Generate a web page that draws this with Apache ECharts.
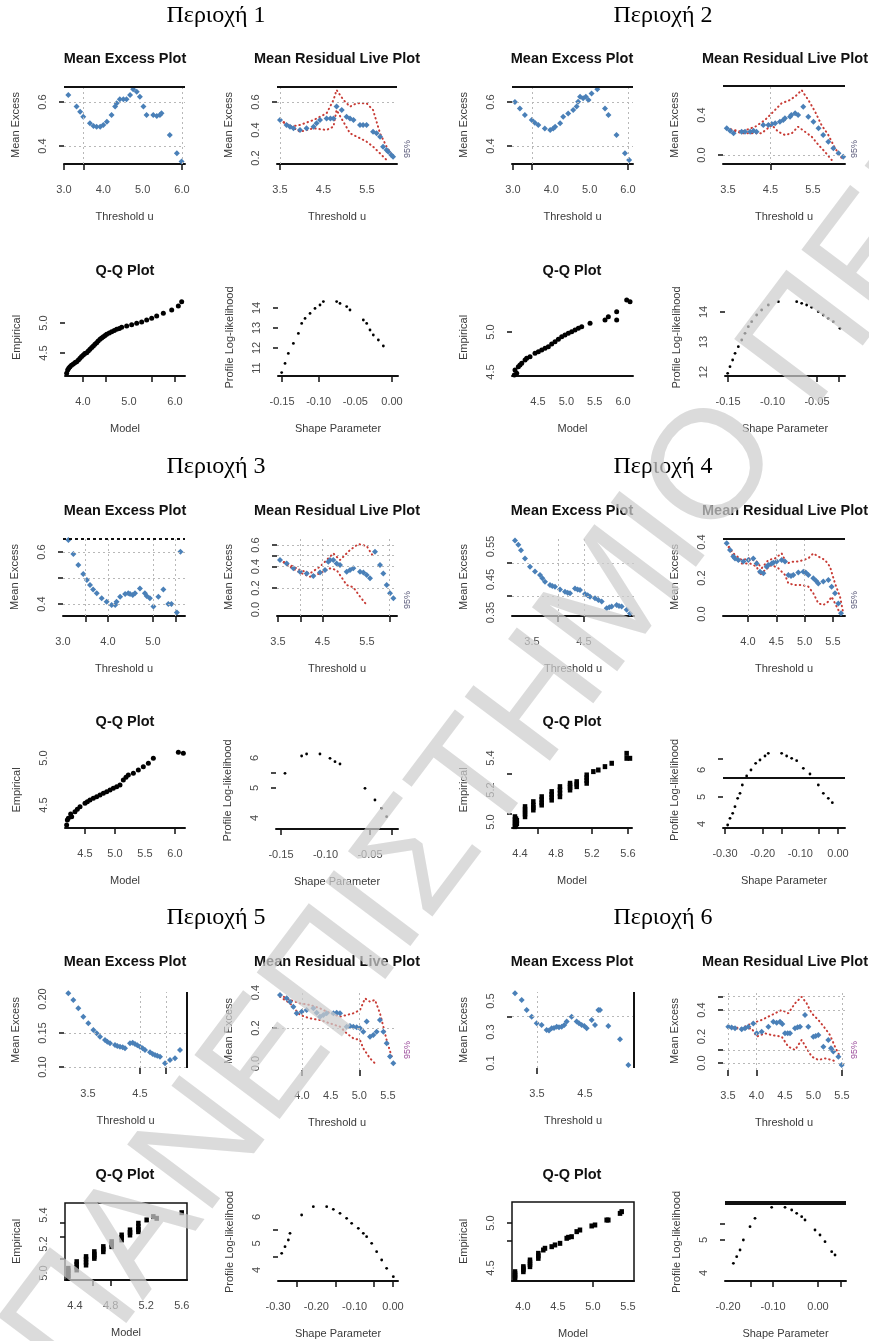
<!DOCTYPE html>
<html><head><meta charset="utf-8">
<script src="https://cdn.jsdelivr.net/npm/echarts@6/dist/echarts.min.js"></script>
<style>html,body{margin:0;padding:0;background:#fff}#c{width:869px;height:1341px}</style>
</head><body><div id="c"></div>
<script>
// ---------- text ----------
const regionTitles = ['Περιοχή 1','Περιοχή 2','Περιοχή 3','Περιοχή 4','Περιοχή 5','Περιοχή 6'];
const titleME = 'Mean Excess Plot', titleMRL = 'Mean Residual Live Plot', titleQQ = 'Q-Q Plot';
const nameThr = 'Threshold u', nameME = 'Mean Excess', nameModel = 'Model', nameEmp = 'Empirical',
      nameShape = 'Shape Parameter', nameProf = 'Profile Log-likelihood', ciText = '95%';
const watermarkText = 'ΠΑΝΕΠΙΣΤΗΜΙΟ ΠΕΙΡΑΙΩΣ';

// ---------- data : region 1 ----------
const r1_me = [[3.11,0.632],[3.32,0.579],[3.41,0.556],[3.49,0.533],[3.66,0.503],[3.75,0.491],[3.83,0.488],[3.92,0.488],[4.00,0.495],[4.09,0.510],[4.21,0.541],[4.30,0.579],[4.34,0.594],[4.42,0.612],[4.51,0.612],[4.59,0.612],[4.68,0.632],[4.76,0.658],[4.85,0.647],[4.93,0.624],[5.02,0.579],[5.10,0.541],[5.27,0.541],[5.36,0.536],[5.44,0.541],[5.48,0.549],[5.69,0.450],[5.87,0.367],[5.99,0.329]];
const r1_mrl = [[3.50,0.471],[3.65,0.436],[3.73,0.424],[3.81,0.412],[3.96,0.400],[4.11,0.412],[4.27,0.424],[4.34,0.448],[4.42,0.471],[4.57,0.483],[4.66,0.483],[4.73,0.483],[4.80,0.567],[4.92,0.543],[5.03,0.495],[5.11,0.483],[5.19,0.471],[5.34,0.436],[5.41,0.436],[5.49,0.436],[5.64,0.388],[5.72,0.376],[5.80,0.352],[5.87,0.281],[5.95,0.257],[5.99,0.245],[6.06,0.221],[6.10,0.209]];
const r1_mrl_hi = [[3.50,0.471],[3.73,0.424],[3.96,0.436],[4.27,0.471],[4.57,0.519],[4.73,0.614],[4.80,0.686],[4.96,0.614],[5.11,0.567],[5.26,0.591],[5.49,0.591],[5.64,0.543],[5.80,0.376],[5.95,0.281],[6.10,0.209]];
const r1_mrl_lo = [[3.50,0.471],[3.96,0.388],[4.27,0.412],[4.57,0.400],[4.73,0.424],[4.80,0.543],[5.11,0.376],[5.34,0.341],[5.49,0.317],[5.64,0.281],[5.80,0.233],[5.95,0.186]];
const r1_qq = [[3.645,4.161],[3.667,4.217],[3.69,4.245],[3.717,4.272],[3.75,4.295],[3.79,4.317],[3.83,4.34],[3.862,4.356],[3.90,4.385],[3.935,4.411],[3.97,4.44],[4.007,4.467],[4.04,4.49],[4.08,4.506],[4.115,4.535],[4.152,4.561],[4.19,4.59],[4.225,4.617],[4.26,4.645],[4.297,4.672],[4.33,4.70],[4.37,4.728],[4.405,4.75],[4.442,4.772],[4.48,4.79],[4.515,4.811],[4.57,4.835],[4.623,4.856],[4.68,4.875],[4.732,4.894],[4.79,4.91],[4.841,4.928],[4.949,4.95],[5.058,4.972],[5.167,4.994],[5.275,5.017],[5.384,5.05],[5.493,5.078],[5.601,5.117],[5.746,5.161],[5.928,5.217],[6.072,5.283],[6.145,5.356]];
const r1_pr = [[-0.1505,10.77],[-0.1459,11.23],[-0.1414,11.73],[-0.1345,12.23],[-0.1277,12.73],[-0.1232,13.23],[-0.1186,13.48],[-0.1118,13.73],[-0.105,13.98],[-0.0982,14.15],[-0.0936,14.32],[-0.0755,14.32],[-0.0709,14.23],[-0.0618,14.07],[-0.0573,13.9],[-0.0391,13.4],[-0.0345,13.23],[-0.03,12.9],[-0.0255,12.65],[-0.0186,12.4],[-0.0118,12.1]];
// region 2
const r2_me = [[3.05,0.600],[3.18,0.571],[3.31,0.541],[3.49,0.518],[3.57,0.506],[3.66,0.495],[3.83,0.480],[3.97,0.473],[4.05,0.480],[4.10,0.488],[4.23,0.503],[4.31,0.533],[4.44,0.548],[4.57,0.564],[4.66,0.579],[4.70,0.601],[4.75,0.624],[4.83,0.617],[4.90,0.624],[4.97,0.609],[5.05,0.639],[5.20,0.658],[5.40,0.571],[5.49,0.541],[5.70,0.450],[5.92,0.367],[6.03,0.336]];
const r2_mrl = [[3.47,0.267],[3.55,0.243],[3.63,0.217],[3.82,0.233],[3.90,0.233],[4.02,0.233],[4.10,0.243],[4.17,0.233],[4.33,0.300],[4.45,0.300],[4.53,0.310],[4.61,0.317],[4.72,0.333],[4.80,0.350],[4.84,0.367],[4.96,0.383],[4.99,0.400],[5.08,0.417],[5.15,0.400],[5.27,0.483],[5.39,0.383],[5.51,0.333],[5.63,0.267],[5.74,0.200],[5.86,0.133],[5.98,0.067],[6.10,0.017],[6.21,-0.017]];
const r2_mrl_hi = [[3.47,0.267],[3.82,0.233],[4.14,0.283],[4.37,0.350],[4.53,0.417],[4.76,0.517],[4.96,0.550],[5.12,0.600],[5.23,0.650],[5.39,0.550],[5.55,0.433],[5.70,0.300],[5.86,0.200],[6.02,0.067],[6.18,-0.033]];
const r2_mrl_lo = [[3.47,0.267],[3.82,0.217],[4.29,0.217],[4.53,0.300],[4.68,0.233],[4.84,0.200],[5.00,0.217],[5.15,0.283],[5.31,0.233],[5.47,0.183],[5.63,0.100],[5.78,0.033],[5.94,-0.050]];
const r2_qq = [[4.082,4.463],[4.094,4.525],[4.124,4.483],[4.153,4.567],[4.182,4.588],[4.212,4.608],[4.271,4.65],[4.30,4.671],[4.359,4.692],[4.447,4.733],[4.506,4.754],[4.565,4.775],[4.624,4.796],[4.682,4.817],[4.741,4.85],[4.80,4.879],[4.859,4.908],[4.918,4.942],[4.976,4.963],[5.035,4.983],[5.094,5.004],[5.153,5.025],[5.212,5.046],[5.271,5.067],[5.418,5.108],[5.682,5.15],[5.741,5.192],[5.888,5.254],[5.888,5.15],[6.065,5.40],[6.124,5.379]];
const r2_pr = [[-0.1504,11.956],[-0.1478,12.178],[-0.1448,12.4],[-0.1421,12.622],[-0.1384,12.844],[-0.1346,13.067],[-0.1309,13.289],[-0.1272,13.511],[-0.1234,13.678],[-0.1178,13.9],[-0.1122,14.067],[-0.1047,14.233],[-0.0934,14.344],[-0.0728,14.344],[-0.0672,14.289],[-0.0616,14.233],[-0.056,14.156],[-0.0485,14.011],[-0.0429,13.9],[-0.0373,13.789],[-0.0316,13.678],[-0.0242,13.456]];
// region 3
const r3_me = [[3.12,0.646],[3.23,0.592],[3.34,0.550],[3.45,0.515],[3.53,0.492],[3.60,0.473],[3.67,0.456],[3.75,0.441],[3.86,0.422],[3.97,0.409],[4.08,0.396],[4.16,0.396],[4.19,0.409],[4.27,0.428],[4.38,0.438],[4.45,0.441],[4.49,0.438],[4.55,0.435],[4.60,0.441],[4.71,0.460],[4.82,0.441],[4.86,0.431],[4.93,0.422],[5.01,0.390],[5.12,0.428],[5.23,0.456],[5.34,0.400],[5.41,0.400],[5.53,0.367],[5.61,0.601]];
const r3_mrl = [[3.545,0.460],[3.695,0.429],[3.845,0.383],[3.994,0.352],[4.144,0.336],[4.294,0.312],[4.444,0.343],[4.556,0.367],[4.631,0.445],[4.669,0.460],[4.743,0.460],[4.818,0.429],[4.893,0.414],[5.043,0.352],[5.118,0.367],[5.193,0.383],[5.343,0.352],[5.418,0.343],[5.493,0.321],[5.567,0.290],[5.680,0.538],[5.792,0.414],[5.867,0.336],[5.942,0.228],[6.017,0.150],[6.092,0.104]];
const r3_mrl_hi = [[3.545,0.460],[3.77,0.414],[3.994,0.367],[4.219,0.336],[4.444,0.398],[4.631,0.476],[4.743,0.522],[4.893,0.460],[5.118,0.553],[5.305,0.609],[5.493,0.591],[5.642,0.491]];
const r3_mrl_lo = [[3.545,0.460],[3.77,0.398],[3.994,0.343],[4.219,0.305],[4.444,0.336],[4.669,0.383],[4.818,0.367],[5.043,0.228],[5.193,0.206],[5.343,0.119],[5.493,0.042]];
const r3_qq = [[4.194,4.287],[4.206,4.34],[4.222,4.358],[4.261,4.404],[4.278,4.376],[4.333,4.429],[4.372,4.454],[4.417,4.482],[4.50,4.518],[4.539,4.535],[4.583,4.553],[4.639,4.571],[4.694,4.589],[4.75,4.606],[4.806,4.624],[4.861,4.642],[4.917,4.66],[4.972,4.677],[5.028,4.695],[5.083,4.713],[5.139,4.766],[5.183,4.794],[5.222,4.819],[5.306,4.837],[5.389,4.872],[5.472,4.908],[5.556,4.943],[5.639,4.996],[6.056,5.06],[6.139,5.05]];
const r3_pr = [[-0.1455,5.489],[-0.1268,6.067],[-0.1212,6.133],[-0.1062,6.133],[-0.0949,5.989],[-0.0893,5.878],[-0.0837,5.80],[-0.0556,4.989],[-0.0444,4.60],[-0.0369,4.322],[-0.0313,4.044]];
// region 4
const r4_me = [[3.173,0.568],[3.237,0.555],[3.288,0.539],[3.365,0.514],[3.462,0.489],[3.558,0.474],[3.654,0.464],[3.699,0.454],[3.75,0.443],[3.846,0.433],[3.891,0.43],[3.942,0.428],[4.038,0.42],[4.135,0.413],[4.186,0.41],[4.231,0.408],[4.327,0.423],[4.378,0.42],[4.423,0.418],[4.519,0.406],[4.571,0.402],[4.615,0.398],[4.712,0.393],[4.776,0.388],[4.84,0.383],[4.936,0.363],[4.987,0.366],[5.032,0.368],[5.128,0.373],[5.173,0.37],[5.224,0.368],[5.321,0.358],[5.385,0.347]];
const r4_mrl = [[3.624,0.393],[3.682,0.356],[3.741,0.319],[3.771,0.309],[3.829,0.300],[3.918,0.291],[4.006,0.300],[4.094,0.309],[4.153,0.281],[4.212,0.235],[4.271,0.226],[4.329,0.263],[4.359,0.272],[4.418,0.281],[4.447,0.285],[4.506,0.291],[4.594,0.300],[4.653,0.291],[4.712,0.217],[4.759,0.211],[4.800,0.217],[4.888,0.230],[4.976,0.235],[5.018,0.230],[5.065,0.217],[5.153,0.198],[5.200,0.185],[5.241,0.170],[5.329,0.180],[5.418,0.189],[5.476,0.152],[5.535,0.115],[5.594,0.059],[5.641,0.004]];
const r4_mrl_hi = [[3.624,0.393],[3.741,0.337],[3.888,0.300],[4.035,0.309],[4.153,0.291],[4.241,0.254],[4.359,0.300],[4.476,0.309],[4.594,0.337],[4.682,0.281],[4.800,0.291],[4.888,0.291],[4.976,0.300],[5.065,0.309],[5.153,0.337],[5.241,0.319],[5.359,0.300],[5.447,0.263],[5.535,0.170],[5.624,0.096],[5.682,0.004]];
const r4_mrl_lo = [[3.624,0.393],[3.741,0.319],[3.888,0.281],[4.035,0.281],[4.153,0.263],[4.212,0.217],[4.300,0.244],[4.418,0.272],[4.535,0.254],[4.653,0.217],[4.712,0.170],[4.829,0.161],[4.947,0.161],[5.065,0.152],[5.153,0.115],[5.241,0.059],[5.329,0.050],[5.418,0.069],[5.476,0.096],[5.565,0.041],[5.624,0.004]];
const r4_qq = [[4.344,4.971],[4.344,4.985],[4.344,5.0],[4.344,5.015],[4.344,5.033],[4.355,4.98],[4.355,5.0],[4.355,5.02],[4.365,4.99],[4.365,5.01],[4.456,5.033],[4.456,5.05],[4.456,5.065],[4.456,5.08],[4.456,5.096],[4.548,5.075],[4.548,5.09],[4.548,5.105],[4.548,5.127],[4.641,5.106],[4.641,5.12],[4.641,5.14],[4.641,5.158],[4.752,5.137],[4.752,5.155],[4.752,5.172],[4.752,5.19],[4.844,5.158],[4.844,5.18],[4.844,5.2],[4.844,5.221],[4.956,5.2],[4.956,5.215],[4.956,5.23],[4.956,5.242],[5.03,5.221],[5.03,5.237],[5.03,5.252],[5.141,5.242],[5.141,5.26],[5.141,5.277],[5.141,5.294],[5.215,5.315],[5.27,5.325],[5.344,5.346],[5.419,5.367],[5.585,5.429],[5.585,5.398],[5.622,5.398]];
const r4_pr = [[-0.2929,3.963],[-0.2867,4.21],[-0.2796,4.395],[-0.2735,4.642],[-0.2664,4.951],[-0.2602,5.136],[-0.254,5.444],[-0.2425,5.778],[-0.231,6.0],[-0.2186,6.247],[-0.2071,6.37],[-0.1938,6.519],[-0.185,6.617],[-0.1496,6.617],[-0.1363,6.519],[-0.123,6.432],[-0.1097,6.346],[-0.092,6.062],[-0.0744,5.852],[-0.0522,5.444],[-0.0389,5.136],[-0.0257,4.951],[-0.015,4.79]];
const r4_pr_line = [5.704];
// region 5
const r5_me = [[3.122,0.2083],[3.218,0.1985],[3.314,0.1863],[3.41,0.174],[3.506,0.1642],[3.603,0.1544],[3.667,0.1495],[3.731,0.1446],[3.827,0.1397],[3.872,0.1372],[3.923,0.1348],[4.019,0.1324],[4.064,0.1309],[4.115,0.1299],[4.167,0.1289],[4.212,0.1275],[4.308,0.1348],[4.359,0.1358],[4.404,0.1338],[4.449,0.1319],[4.50,0.1299],[4.551,0.1275],[4.596,0.125],[4.692,0.1216],[4.744,0.1191],[4.788,0.1176],[4.833,0.1167],[4.885,0.1152],[4.981,0.1054],[5.077,0.1103],[5.173,0.1127],[5.269,0.125]];
const r5_mrl = [[3.616,0.386],[3.733,0.367],[3.791,0.348],[3.849,0.320],[3.907,0.283],[3.994,0.292],[4.081,0.301],[4.198,0.311],[4.256,0.286],[4.314,0.264],[4.372,0.273],[4.430,0.283],[4.547,0.283],[4.605,0.286],[4.663,0.283],[4.779,0.2075],[4.837,0.211],[4.895,0.2075],[4.954,0.204],[5.012,0.198],[5.070,0.179],[5.128,0.236],[5.186,0.151],[5.244,0.161],[5.302,0.179],[5.360,0.245],[5.419,0.179],[5.477,0.114],[5.535,0.039],[5.593,0.001]];
const r5_mrl_hi = [[3.616,0.386],[3.791,0.358],[3.965,0.339],[4.14,0.330],[4.314,0.311],[4.43,0.292],[4.663,0.264],[4.779,0.273],[4.895,0.283],[5.012,0.301],[5.099,0.367],[5.186,0.348],[5.273,0.358],[5.36,0.283],[5.419,0.2075],[5.477,0.132],[5.564,0.039]];
const r5_mrl_lo = [[3.616,0.376],[3.791,0.339],[3.965,0.273],[4.14,0.254],[4.314,0.245],[4.488,0.226],[4.663,0.2075],[4.779,0.170],[4.895,0.142],[5.012,0.132],[5.07,0.085],[5.128,0.057],[5.186,0.029],[5.273,0.001]];
const r5_qq = [[4.325,4.963],[4.325,4.98],[4.325,4.997],[4.325,5.015],[4.325,5.032],[4.419,5.021],[4.419,5.04],[4.419,5.06],[4.419,5.078],[4.524,5.055],[4.524,5.075],[4.524,5.095],[4.524,5.113],[4.617,5.101],[4.617,5.115],[4.617,5.13],[4.617,5.147],[4.718,5.147],[4.718,5.165],[4.718,5.182],[4.812,5.182],[4.812,5.2],[4.812,5.216],[4.924,5.228],[4.924,5.245],[4.924,5.262],[5.018,5.262],[5.018,5.28],[5.018,5.297],[5.112,5.285],[5.112,5.3],[5.112,5.32],[5.112,5.343],[5.205,5.366],[5.28,5.389],[5.318,5.377],[5.599,5.416]];
const r5_pr = [[-0.2904,4.629],[-0.2817,4.881],[-0.273,5.132],[-0.2687,5.384],[-0.2383,6.075],[-0.2078,6.39],[-0.173,6.39],[-0.1556,6.289],[-0.1382,6.138],[-0.1209,5.95],[-0.1078,5.761],[-0.0904,5.572],[-0.0774,5.384],[-0.0687,5.258],[-0.0556,5.006],[-0.0426,4.692],[-0.0295,4.377],[-0.0165,4.063],[0.0009,3.748]];
// region 6
const r6_me = [[3.042,0.5495],[3.181,0.5065],[3.285,0.442],[3.389,0.399],[3.493,0.356],[3.597,0.345],[3.701,0.313],[3.75,0.309],[3.806,0.324],[3.854,0.326],[3.91,0.334],[3.958,0.330],[4.014,0.334],[4.069,0.345],[4.118,0.367],[4.222,0.399],[4.326,0.367],[4.375,0.356],[4.431,0.345],[4.486,0.339],[4.535,0.324],[4.639,0.377],[4.708,0.345],[4.778,0.442],[4.813,0.442],[4.986,0.339],[5.229,0.253],[5.403,0.087]];
const r6_mrl = [[3.506,0.274],[3.564,0.267],[3.623,0.262],[3.74,0.254],[3.798,0.262],[3.857,0.274],[3.944,0.299],[4.003,0.224],[4.091,0.236],[4.208,0.274],[4.295,0.312],[4.354,0.304],[4.412,0.312],[4.453,0.294],[4.50,0.224],[4.547,0.224],[4.588,0.224],[4.675,0.262],[4.722,0.269],[4.763,0.274],[4.851,0.362],[4.909,0.274],[4.997,0.199],[5.038,0.204],[5.085,0.211],[5.173,0.123],[5.26,0.174],[5.307,0.111],[5.348,0.086],[5.436,0.048],[5.494,-0.015]];
const r6_mrl_hi = [[3.506,0.274],[3.74,0.262],[3.915,0.299],[4.091,0.325],[4.266,0.362],[4.442,0.40],[4.558,0.375],[4.675,0.45],[4.792,0.50],[4.88,0.45],[4.968,0.375],[5.085,0.325],[5.202,0.262],[5.289,0.211],[5.377,0.123],[5.465,0.048]];
const r6_mrl_lo = [[3.506,0.274],[3.74,0.254],[3.915,0.262],[4.003,0.199],[4.149,0.224],[4.266,0.211],[4.442,0.199],[4.558,0.123],[4.675,0.098],[4.792,0.174],[4.88,0.111],[4.968,0.048],[5.085,0.023],[5.202,0.035],[5.319,0.023],[5.406,0.010]];
const r6_qq = [[3.886,4.385],[3.886,4.40],[3.886,4.42],[3.886,4.44],[3.886,4.459],[4.005,4.459],[4.005,4.48],[4.005,4.50],[4.005,4.515],[4.10,4.515],[4.10,4.54],[4.10,4.565],[4.10,4.589],[4.219,4.607],[4.219,4.635],[4.219,4.663],[4.29,4.70],[4.314,4.719],[4.41,4.737],[4.457,4.756],[4.529,4.774],[4.624,4.83],[4.648,4.841],[4.695,4.848],[4.767,4.904],[4.814,4.922],[4.981,4.967],[5.029,4.978],[5.195,5.033],[5.219,5.033],[5.386,5.107],[5.41,5.126]];
const r6_pr = [[-0.1881,4.293],[-0.1807,4.495],[-0.1733,4.697],[-0.1659,5.0],[-0.1511,5.404],[-0.14,5.657],[-0.103,5.99],[-0.0733,5.99],[-0.0585,5.909],[-0.0474,5.808],[-0.0363,5.707],[-0.0289,5.606],[-0.0067,5.303],[0.0044,5.152],[0.0156,4.949],[0.0304,4.646],[0.0378,4.545]];

// ---------- tick labels (values shown on axes) ----------
const r1_me_xl=[3.0,4.0,5.0,6.0], r1_me_yl=[0.4,0.6];
const r1_mrl_xl=[3.5,4.5,5.5], r1_mrl_yl=[0.2,0.4,0.6];
const r1_qq_xl=[4.0,5.0,6.0], r1_qq_yl=[4.5,5.0];
const r1_pr_xl=[-0.15,-0.10,-0.05,0.00], r1_pr_yl=[11,12,13,14];
const r2_me_xl=[3.0,4.0,5.0,6.0], r2_me_yl=[0.4,0.6];
const r2_mrl_xl=[3.5,4.5,5.5], r2_mrl_yl=[0.0,0.4];
const r2_qq_xl=[4.5,5.0,5.5,6.0], r2_qq_yl=[4.5,5.0];
const r2_pr_xl=[-0.15,-0.10,-0.05], r2_pr_yl=[12,13,14];
const r3_me_xl=[3.0,4.0,5.0], r3_me_yl=[0.4,0.6];
const r3_mrl_xl=[3.5,4.5,5.5], r3_mrl_yl=[0.0,0.2,0.4,0.6];
const r3_qq_xl=[4.5,5.0,5.5,6.0], r3_qq_yl=[4.5,5.0];
const r3_pr_xl=[-0.15,-0.10,-0.05], r3_pr_yl=[4,5,6];
const r4_me_xl=[3.5,4.5], r4_me_yl=[0.35,0.45,0.55];
const r4_mrl_xl=[4.0,4.5,5.0,5.5], r4_mrl_yl=[0.0,0.2,0.4];
const r4_qq_xl=[4.4,4.8,5.2,5.6], r4_qq_yl=[5.0,5.2,5.4];
const r4_pr_xl=[-0.30,-0.20,-0.10,0.00], r4_pr_yl=[4,5,6];
const r5_me_xl=[3.5,4.5], r5_me_yl=[0.10,0.15,0.20];
const r5_mrl_xl=[4.0,4.5,5.0,5.5], r5_mrl_yl=[0.0,0.2,0.4];
const r5_qq_xl=[4.4,4.8,5.2,5.6], r5_qq_yl=[5.0,5.2,5.4];
const r5_pr_xl=[-0.30,-0.20,-0.10,0.00], r5_pr_yl=[4,5,6];
const r6_me_xl=[3.5,4.5], r6_me_yl=[0.1,0.3,0.5];
const r6_mrl_xl=[3.5,4.0,4.5,5.0,5.5], r6_mrl_yl=[0.0,0.2,0.4];
const r6_qq_xl=[4.0,4.5,5.0,5.5], r6_qq_yl=[4.5,5.0];
const r6_pr_xl=[-0.20,-0.10,0.00], r6_pr_yl=[4,5];

// ---------- panel layout & axis settings ----------
const panels = [
 {rect:[64,86,121,78], kind:'me', x:[3.0,6.077], y:[0.3182,0.6727], xT:[3.0,3.5,6.0], xL:r1_me_xl, xd:1, yT:[0.4,0.6], yL:r1_me_yl, yd:1, gx:[3.5,6.0], gy:[0.4,0.6], top:'solid', pts:r1_me},
 {rect:[277,86,120,78], kind:'mrl', x:[3.431,6.190], y:[0.1571,0.7143], xT:[3.5], xL:r1_mrl_xl, xd:1, yT:[0.6], yL:r1_mrl_yl, yd:1, gx:[3.5], gy:[0.6], top:'solid', pts:r1_mrl, hi:r1_mrl_hi, lo:r1_mrl_lo},
 {rect:[65,299,120,77], kind:'qq', x:[3.609,6.217], y:[4.1167,5.4], xT:[4.0,4.5,5.5,6.0], xL:r1_qq_xl, xd:1, yT:[4.5,5.0], yL:r1_qq_yl, yd:1, pts:r1_qq},
 {rect:[278,299,120,77], kind:'pr', x:[-0.1555,0.0082], y:[10.6,14.45], xT:[-0.15,-0.10,0], xL:r1_pr_xl, xd:2, yT:[12,13,14], yL:r1_pr_yl, yd:0, pts:r1_pr},

 {rect:[512,86,121,78], kind:'me', x:[2.974,6.131], y:[0.3182,0.6727], xT:[3.0,3.5,6.0], xL:r2_me_xl, xd:1, yT:[0.4,0.6], yL:r2_me_yl, yd:1, gx:[3.5,6.0], gy:[0.4,0.6], top:'solid', pts:r2_me},
 {rect:[723,86,122,78], kind:'mrl', x:[3.382,6.253], y:[-0.09,0.69], xT:[4.5], xL:r2_mrl_xl, xd:1, yT:[0.0], yL:r2_mrl_yl, yd:1, gx:[4.5], gy:[0.0], top:'solid', pts:r2_mrl, hi:r2_mrl_hi, lo:r2_mrl_lo},
 {rect:[512,299,121,77], kind:'qq', x:[4.041,6.176], y:[4.45,5.4125], xT:[], xL:r2_qq_xl, xd:1, yT:[5.0], yL:r2_qq_yl, yd:1, pts:r2_qq},
 {rect:[725,299,120,77], kind:'pr', x:[-0.1534,-0.0185], y:[11.867,14.433], xT:[-0.15,-0.05,-0.025], xL:r2_pr_xl, xd:2, yT:[14], yL:r2_pr_yl, yd:0, pts:r2_pr},

 {rect:[63,538,122,78], kind:'me', x:[3.0,5.711], y:[0.3538,0.6538], xT:[3.5,4.0,5.0,5.5], xL:r3_me_xl, xd:1, yT:[0.4,0.5,0.6], yL:r3_me_yl, yd:1, gx:[3.5,4.0,5.0,5.5], gy:[0.4,0.5,0.6], top:'dotted', pts:r3_me},
 {rect:[277,538,120,78], kind:'mrl', x:[3.4775,6.174], y:[-0.0605,0.6651], xT:[3.5,4.0,4.5,6.0], xL:r3_mrl_xl, xd:1, yT:[0.2,0.4,0.5,0.6], yL:r3_mrl_yl, yd:1, gx:[4.0,4.5,6.0], gy:[0.2,0.4,0.5,0.6], top:'solid', pts:r3_mrl, hi:r3_mrl_hi, lo:r3_mrl_lo},
 {rect:[65,752,120,76], kind:'qq', x:[4.1667,6.1667], y:[4.2553,5.0638], xT:[4.5,5.0,6.0], xL:r3_qq_xl, xd:1, yT:[], yL:r3_qq_yl, yd:1, pts:r3_qq},
 {rect:[276,752,122,77], kind:'pr', x:[-0.1556,-0.0185], y:[3.633,6.2], xT:[-0.15,-0.05,-0.025], xL:r3_pr_xl, xd:2, yT:[5.0,5.5], yL:r3_pr_yl, yd:0, pts:r3_pr},

 {rect:[512,538,122,78], kind:'me', x:[3.1154,5.4615], y:[0.3394,0.5758], xT:[4.0,4.5], xL:r4_me_xl, xd:1, yT:[0.4,0.5], yL:r4_me_yl, yd:2, gx:[4.0,4.5], gy:[0.4,0.5], top:'solid', pts:r4_me},
 {rect:[723,538,122,78], kind:'mrl', x:[3.5589,5.7117], y:[-0.0111,0.4222], xT:[4.0,4.5,5.0,5.5], xL:r4_mrl_xl, xd:1, yT:[], yL:r4_mrl_yl, yd:1, gx:[4.0,4.5,5.0], gy:[], top:'solid', pts:r4_mrl, hi:r4_mrl_hi, lo:r4_mrl_lo},
 {rect:[512,752,120,76], kind:'qq', bars:true, x:[4.3111,5.6444], y:[4.9625,5.4375], xT:[4.6,5.2,5.6], xL:r4_qq_xl, xd:1, yT:[5.05,5.3], yL:r4_qq_yl, yd:1, pts:r4_qq},
 {rect:[723,752,122,76], kind:'pr', x:[-0.3053,0.0186], y:[3.8519,6.6667], xT:[-0.30,-0.20,-0.15,-0.05,0], xL:r4_pr_xl, xd:2, yT:[5.0,6.4], yL:r4_pr_yl, yd:0, hline:r4_pr_line, pts:r4_pr},

 {rect:[64,992,123,76], kind:'me', x:[3.0385,5.4038], y:[0.0985,0.2103], xT:[4.5,5.0], xL:r5_me_xl, xd:1, yT:[0.10,0.15], yL:r5_me_yl, yd:2, gx:[4.5,5.0], gy:[0.10,0.15], right:true, noXLine:true, pts:r5_me},
 {rect:[277,992,120,78], kind:'mrl', x:[3.5639,5.6571], y:[-0.0366,0.4028], xT:[4.0,5.0], xL:r5_mrl_xl, xd:1, yT:[0.2], yL:r5_mrl_yl, yd:1, gx:[4.0,5.0], gy:[0.2], noXLine:true, ciColor:'#9a4a9a', pts:r5_mrl, hi:r5_mrl_hi, lo:r5_mrl_lo},
 {rect:[65,1203,122,77], kind:'qq', bars:true, box:true, x:[4.2876,5.6584], y:[4.9517,5.4828], xT:[4.6,4.8], xL:r5_qq_xl, xd:1, yT:[5.1,5.25,5.35], yL:r5_qq_yl, yd:1, pts:r5_qq},
 {rect:[278,1203,120,78], kind:'pr', x:[-0.30,0.0131], y:[3.5849,6.5283], xT:[-0.25,-0.15,-0.05,0], xL:r5_pr_xl, xd:2, yT:[4.5,5.5], yL:r5_pr_yl, yd:0, thickTop:true, pts:r5_pr},

 {rect:[512,992,122,76], kind:'me', x:[2.9792,5.5208], y:[0.0677,0.5581], xT:[3.5], xL:r6_me_xl, xd:1, yT:[0.4], yL:r6_me_yl, yd:1, gx:[3.5], gy:[0.4], right:true, noXLine:true, pts:r6_me},
 {rect:[723,992,122,78], kind:'mrl', x:[3.4123,5.5526], y:[-0.0528,0.5358], xT:[3.5,4.0,5.5], xL:r6_mrl_xl, xd:1, yT:[0.0,0.1,0.4,0.5], yL:r6_mrl_yl, yd:1, gx:[3.5,4.0,5.5], gy:[0.0,0.1,0.4,0.5], noXLine:true, ciColor:'#9a4a9a', pts:r6_mrl, hi:r6_mrl_hi, lo:r6_mrl_lo},
 {rect:[512,1202,122,79], kind:'qq', bars:true, box:true, x:[3.8429,5.5857], y:[4.3556,5.2333], xT:[5.0], xL:r6_qq_xl, xd:1, yT:[4.8,5.0], yL:r6_qq_yl, yd:1, pts:r6_qq},
 {rect:[725,1203,121,78], kind:'pr', x:[-0.2067,0.0622], y:[3.7576,6.1212], xT:[-0.15,-0.10,0,0.05], xL:r6_pr_xl, xd:2, yT:[5.0,5.5], yL:r6_pr_yl, yd:0, thickTop:true, pts:r6_pr}
];

const FONT = '"Liberation Sans", Arial, Helvetica, sans-serif';
const SERIF = '"Liberation Serif", "Times New Roman", serif';
const BLUE = '#4a80b8', RED = '#c83c36', INK = '#111', LAB = '#4a4a4a', GRIDC = '#b8b8b8';

const names = {me:[nameThr, nameME], mrl:[nameThr, nameME], qq:[nameModel, nameEmp], pr:[nameShape, nameProf]};

const grids=[], xAxes=[], yAxes=[], series=[], graphics=[];
panels.forEach((p,i)=>{
  const [l,t,w,h] = p.rect;
  grids.push({left:l, top:t, width:w, height:h, show:!!p.box, borderColor:INK, borderWidth:1.5, backgroundColor:'transparent'});
  xAxes.push({
    type:'value', gridIndex:i, min:p.x[0], max:p.x[1],
    axisLine:{show:!p.noXLine, onZero:false, lineStyle:{color:INK, width:2}},
    axisTick:{show:p.xT.length>0, customValues:p.xT, length:6, lineStyle:{color:INK, width:1.5}},
    axisLabel:{customValues:p.xL, formatter:(v)=>Number(v).toFixed(p.xd), margin:20, fontSize:11, color:LAB, fontFamily:FONT},
    splitLine:{show:false},
    name:names[p.kind][0], nameLocation:'middle', nameGap:47,
    nameTextStyle:{fontSize:11, color:'#3a3a3a', fontFamily:FONT}
  });
  yAxes.push({
    type:'value', gridIndex:i, min:p.y[0], max:p.y[1],
    axisLine:{show:false, onZero:false},
    axisTick:{show:p.yT.length>0, customValues:p.yT, length:5, lineStyle:{color:INK, width:1.5}},
    axisLabel:{customValues:p.yL, rotate:90, formatter:(v)=>Number(v).toFixed(p.yd), margin:16, fontSize:11, color:LAB, fontFamily:FONT},
    splitLine:{show:false},
    name:names[p.kind][1], nameLocation:'middle', nameGap:43,
    nameTextStyle:{fontSize:11, color:'#3a3a3a', fontFamily:FONT}
  });
  const ml = [];
  (p.gx||[]).forEach(v=>ml.push({xAxis:v, lineStyle:{type:[2,3], color:GRIDC, width:1}}));
  (p.gy||[]).forEach(v=>ml.push({yAxis:v, lineStyle:{type:[2,3], color:GRIDC, width:1}}));
  if (p.top) ml.push({yAxis:p.y[1], lineStyle:{type:p.top==='dotted'?[3,3]:'solid', color:INK, width:2}});
  if (p.right) ml.push({xAxis:p.x[1], lineStyle:{type:'solid', color:INK, width:2}});
  if (p.thickTop) ml.push({yAxis:p.y[1], lineStyle:{type:'solid', color:INK, width:4}});
  (p.hline||[]).forEach(v=>ml.push({yAxis:v, lineStyle:{type:'solid', color:INK, width:2}}));
  series.push({type:'line', xAxisIndex:i, yAxisIndex:i, data:[], z:1, silent:true,
    markLine:{symbol:['none','none'], silent:true, label:{show:false}, animation:false, data:ml}});
  if (p.kind==='mrl') {
    [p.hi,p.lo].forEach(d=>series.push({type:'line', xAxisIndex:i, yAxisIndex:i, data:d, symbol:'none', showSymbol:false, silent:true, z:2,
      lineStyle:{color:RED, width:2, type:[0.5,3.8], cap:'round'}}));
  }
  let sym='circle', size=5, col='#000';
  if (p.kind==='me' || p.kind==='mrl') { sym='diamond'; size=6; col=BLUE; }
  if (p.kind==='pr') { size=2.8; }
  if (p.bars) { sym='rect'; size=[4.5,5]; }
  series.push({type:'scatter', xAxisIndex:i, yAxisIndex:i, data:p.pts, symbol:sym, symbolSize:size, silent:true, z:3,
    itemStyle:{color:col, opacity:1}});
});

// titles
const colX = [[125,337],[572,785]];
const rowY = [[16,59,271],[467,511,722],[918,962,1175]];
regionTitles.forEach((txt,r)=>{
  const c=r%2, row=Math.floor(r/2);
  graphics.push({type:'text', x:c?663:216, y:rowY[row][0], style:{text:txt, font:'24px '+SERIF, fill:'#000', align:'center', verticalAlign:'middle'}});
  graphics.push({type:'text', x:colX[c][0], y:rowY[row][1], style:{text:titleME, font:'bold 14.5px '+FONT, fill:INK, align:'center', verticalAlign:'middle'}});
  graphics.push({type:'text', x:colX[c][1], y:rowY[row][1], style:{text:titleMRL, font:'bold 14.5px '+FONT, fill:INK, align:'center', verticalAlign:'middle'}});
  graphics.push({type:'text', x:colX[c][0], y:rowY[row][2], style:{text:titleQQ, font:'bold 14.5px '+FONT, fill:INK, align:'center', verticalAlign:'middle'}});
  const mp = panels[r*4+1];
  graphics.push({type:'text', x:c?855:408, y:[149,600,1050][row], rotation:Math.PI/2,
    style:{text:ciText, font:'9px '+FONT, fill:mp.ciColor||'#5a5a7a', align:'center', verticalAlign:'middle'}});
});
// watermark
graphics.push({type:'text', x:41, y:1365, rotation:0.925, z:100, silent:true,
  style:{text:watermarkText, font:'155px "Liberation Sans", "DejaVu Sans", sans-serif', fill:'rgba(205,205,205,0.72)', align:'left', verticalAlign:'middle'}});

const chart = echarts.init(document.getElementById('c'), null, {renderer:'canvas'});
chart.setOption({animation:false, backgroundColor:'#fff', grid:grids, xAxis:xAxes, yAxis:yAxes, series:series, graphic:{elements:graphics}});
</script></body></html>
